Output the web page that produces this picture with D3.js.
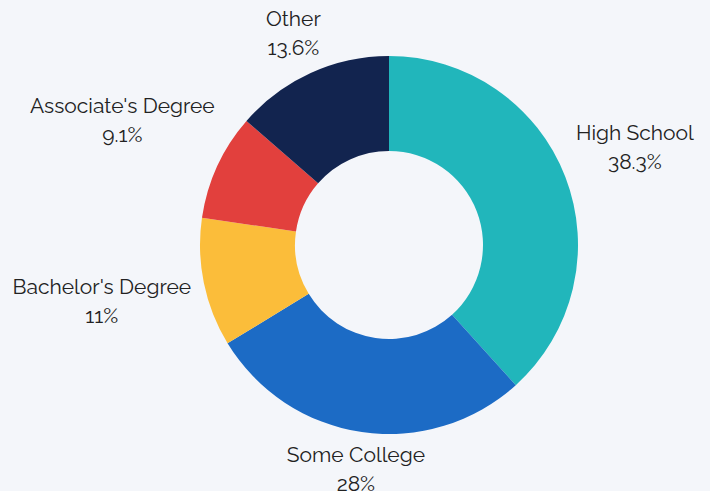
<!DOCTYPE html>
<html><head><meta charset="utf-8">
<script src="https://cdn.jsdelivr.net/npm/d3@7"></script>
<style>
html,body{margin:0;padding:0;background:#f4f6fa;}
svg{display:block;}
text{font-family:Raleway,"Open Sans",Lato,sans-serif;font-size:21px;fill:#222;}
</style></head>
<body>
<svg id="chart" width="710" height="491"></svg>
<script>
const categories = ["High School", "Some College", "Bachelor's Degree", "Associate's Degree", "Other"];
const values = [38.3, 28, 11, 9.1, 13.6];
const labels = ["38.3%", "28%", "11%", "9.1%", "13.6%"];
const colors = ["#21b6bb", "#1c6bc5", "#fbbd3a", "#e2403d", "#12244f"];

const W = 710, H = 491;
const cx = 389, cy = 245, outerR = 189, innerR = 94, labelR = 202, lineGap = 29;
const halfH = 18, centerOffset = 10;

const svg = d3.select("#chart");
svg.append("rect").attr("width", W).attr("height", H).attr("fill", "#f4f6fa");
const g = svg.append("g").attr("transform", `translate(${cx},${cy})`);

const data = categories.map((c, i) => ({name: c, value: values[i], label: labels[i], color: colors[i]}));
const pie = d3.pie().value(d => d.value).sort(null);
const arc = d3.arc().innerRadius(innerR).outerRadius(outerR);
const arcs = pie(data);

g.selectAll("path.slice").data(arcs).enter().append("path")
  .attr("class", "slice")
  .attr("d", arc)
  .attr("fill", d => d.data.color);

const lg = g.selectAll("g.lbl").data(arcs).enter().append("g").attr("class", "lbl");
lg.append("text").attr("text-anchor", "middle").attr("y", 0).text(d => d.data.name);
lg.append("text").attr("text-anchor", "middle").attr("y", lineGap).text(d => d.data.label);

lg.each(function(d) {
  const box = this.getBBox();
  const hw = box.width / 2;
  const a = (d.startAngle + d.endAngle) / 2;
  const s = Math.sin(a), c = Math.cos(a);
  const r = labelR + hw * Math.abs(s) + halfH * Math.abs(c);
  const px = r * s, py = -r * c;
  const bcx = box.x + hw;
  d3.select(this).attr("transform", `translate(${px - bcx},${py - centerOffset})`);
});
</script>
</body></html>
